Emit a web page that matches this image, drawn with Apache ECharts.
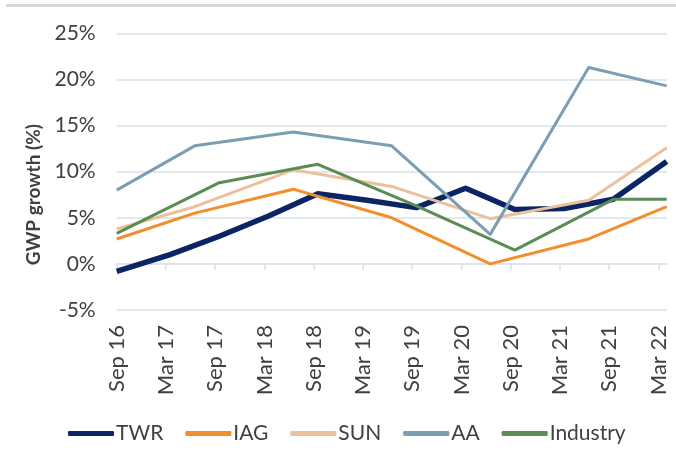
<!DOCTYPE html>
<html>
<head>
<meta charset="utf-8">
<script src="https://cdn.jsdelivr.net/npm/echarts@6/dist/echarts.min.js"></script>
<style>
  html, body { margin: 0; padding: 0; background: #fff; }
  #topRule { position: absolute; left: 6px; top: 4px; width: 670px; height: 3px; background: #d9d9d9; }
  #chart { width: 676px; height: 452px; }
</style>
</head>
<body>
<div id="topRule"></div>
<div id="chart"></div>
<script>
// axis labels, one every six months (month 0 = Sep 16)
const tickLabels = ['Sep 16', 'Mar 17', 'Sep 17', 'Mar 18', 'Sep 18', 'Mar 19', 'Sep 19', 'Mar 20', 'Sep 20', 'Mar 21', 'Sep 21', 'Mar 22']
const tickMonths = [0, 6, 12, 18, 24, 30, 36, 42, 48, 54, 60, 66]

// reporting points, in months from Sep 16
const twrMonths = [0, 6.5, 12.5, 18.5, 24.5, 30.5, 36.5, 42.5, 48.5, 54.5, 60.5, 67]
const juneMonths = [0, 9.5, 21.5, 33.5, 45.5, 57.5, 67]
const industryMonths = [0, 12.5, 24.5, 36.5, 48.5, 60.5, 67]

// GWP growth, %
const twr = [-0.8, 1.0, 3.0, 5.2, 7.6, 6.9, 6.1, 8.2, 5.9, 6.0, 7.0, 11.1]
const iag = [2.7, 5.5, 8.1, 5.0, 0.0, 2.7, 6.2]
const sun = [3.8, 6.2, 10.2, 8.4, 4.9, 6.9, 12.6]
const aa = [8.0, 12.8, 14.3, 12.8, 3.2, 21.3, 19.3]
const industry = [3.3, 8.8, 10.8, 6.3, 1.5, 7.0, 7.0]

const textColor = '#404040'
const gridColor = '#d9e1eb'

const pairs = (xs, ys) => xs.map((x, i) => [x, ys[i]])

function line(name, xs, ys, color, width) {
  return {
    name, type: 'line', xAxisIndex: 0, data: pairs(xs, ys),
    symbol: 'none', silent: true,
    lineStyle: { color, width, join: 'round' },
    itemStyle: { color }
  }
}

const chart = echarts.init(document.getElementById('chart'))
chart.setOption({
  animation: false,
  textStyle: { fontFamily: 'Lato', color: textColor },
  grid: { left: 116.7, right: 9.3, top: 33.3, bottom: 142 },
  legend: {
    left: 63, top: 418, itemWidth: 46, itemHeight: 5, itemGap: 22,
    icon: 'roundRect',
    textStyle: { fontSize: 21, color: textColor, fontFamily: 'Lato', padding: [0, 0, 0, -3] },
    data: ['TWR', 'IAG', 'SUN', 'AA', 'Industry']
  },
  xAxis: [
    {
      type: 'value', min: 0, max: 67, position: 'bottom',
      axisLine: { show: false, onZero: false },
      axisTick: { show: false },
      splitLine: { show: false },
      axisLabel: {
        customValues: tickMonths, rotate: 90, margin: 15, fontSize: 22, color: textColor,
        padding: [10, 0, 0, 0],
        formatter: v => tickLabels[tickMonths.indexOf(v)] || ''
      }
    },
    {
      type: 'value', min: 0, max: 67, position: 'bottom',
      axisLine: { show: true, onZero: true, lineStyle: { color: gridColor, width: 1.5 } },
      axisTick: { show: true, customValues: tickMonths, length: 6, lineStyle: { color: gridColor, width: 1.5 } },
      axisLabel: { show: false },
      splitLine: { show: false }
    }
  ],
  yAxis: {
    type: 'value', min: -5, max: 25, interval: 5,
    name: 'GWP growth (%)', nameLocation: 'middle', nameGap: 72,
    nameTextStyle: { fontSize: 19, fontWeight: 'bold', color: textColor, padding: [0, 46, 0, 0] },
    axisLine: { show: false }, axisTick: { show: false },
    axisLabel: { formatter: '{value}%', fontSize: 21, margin: 21, color: textColor },
    splitLine: { lineStyle: { color: gridColor, width: 1.5 } }
  },
  series: [
    line('TWR', twrMonths, twr, '#0b2463', 5.5),
    line('IAG', juneMonths, iag, '#f28e2b', 3),
    line('SUN', juneMonths, sun, '#ebc09c', 3),
    line('AA', juneMonths, aa, '#7a9eb2', 3),
    line('Industry', industryMonths, industry, '#5b8c55', 3)
  ]
})
</script>
</body>
</html>
